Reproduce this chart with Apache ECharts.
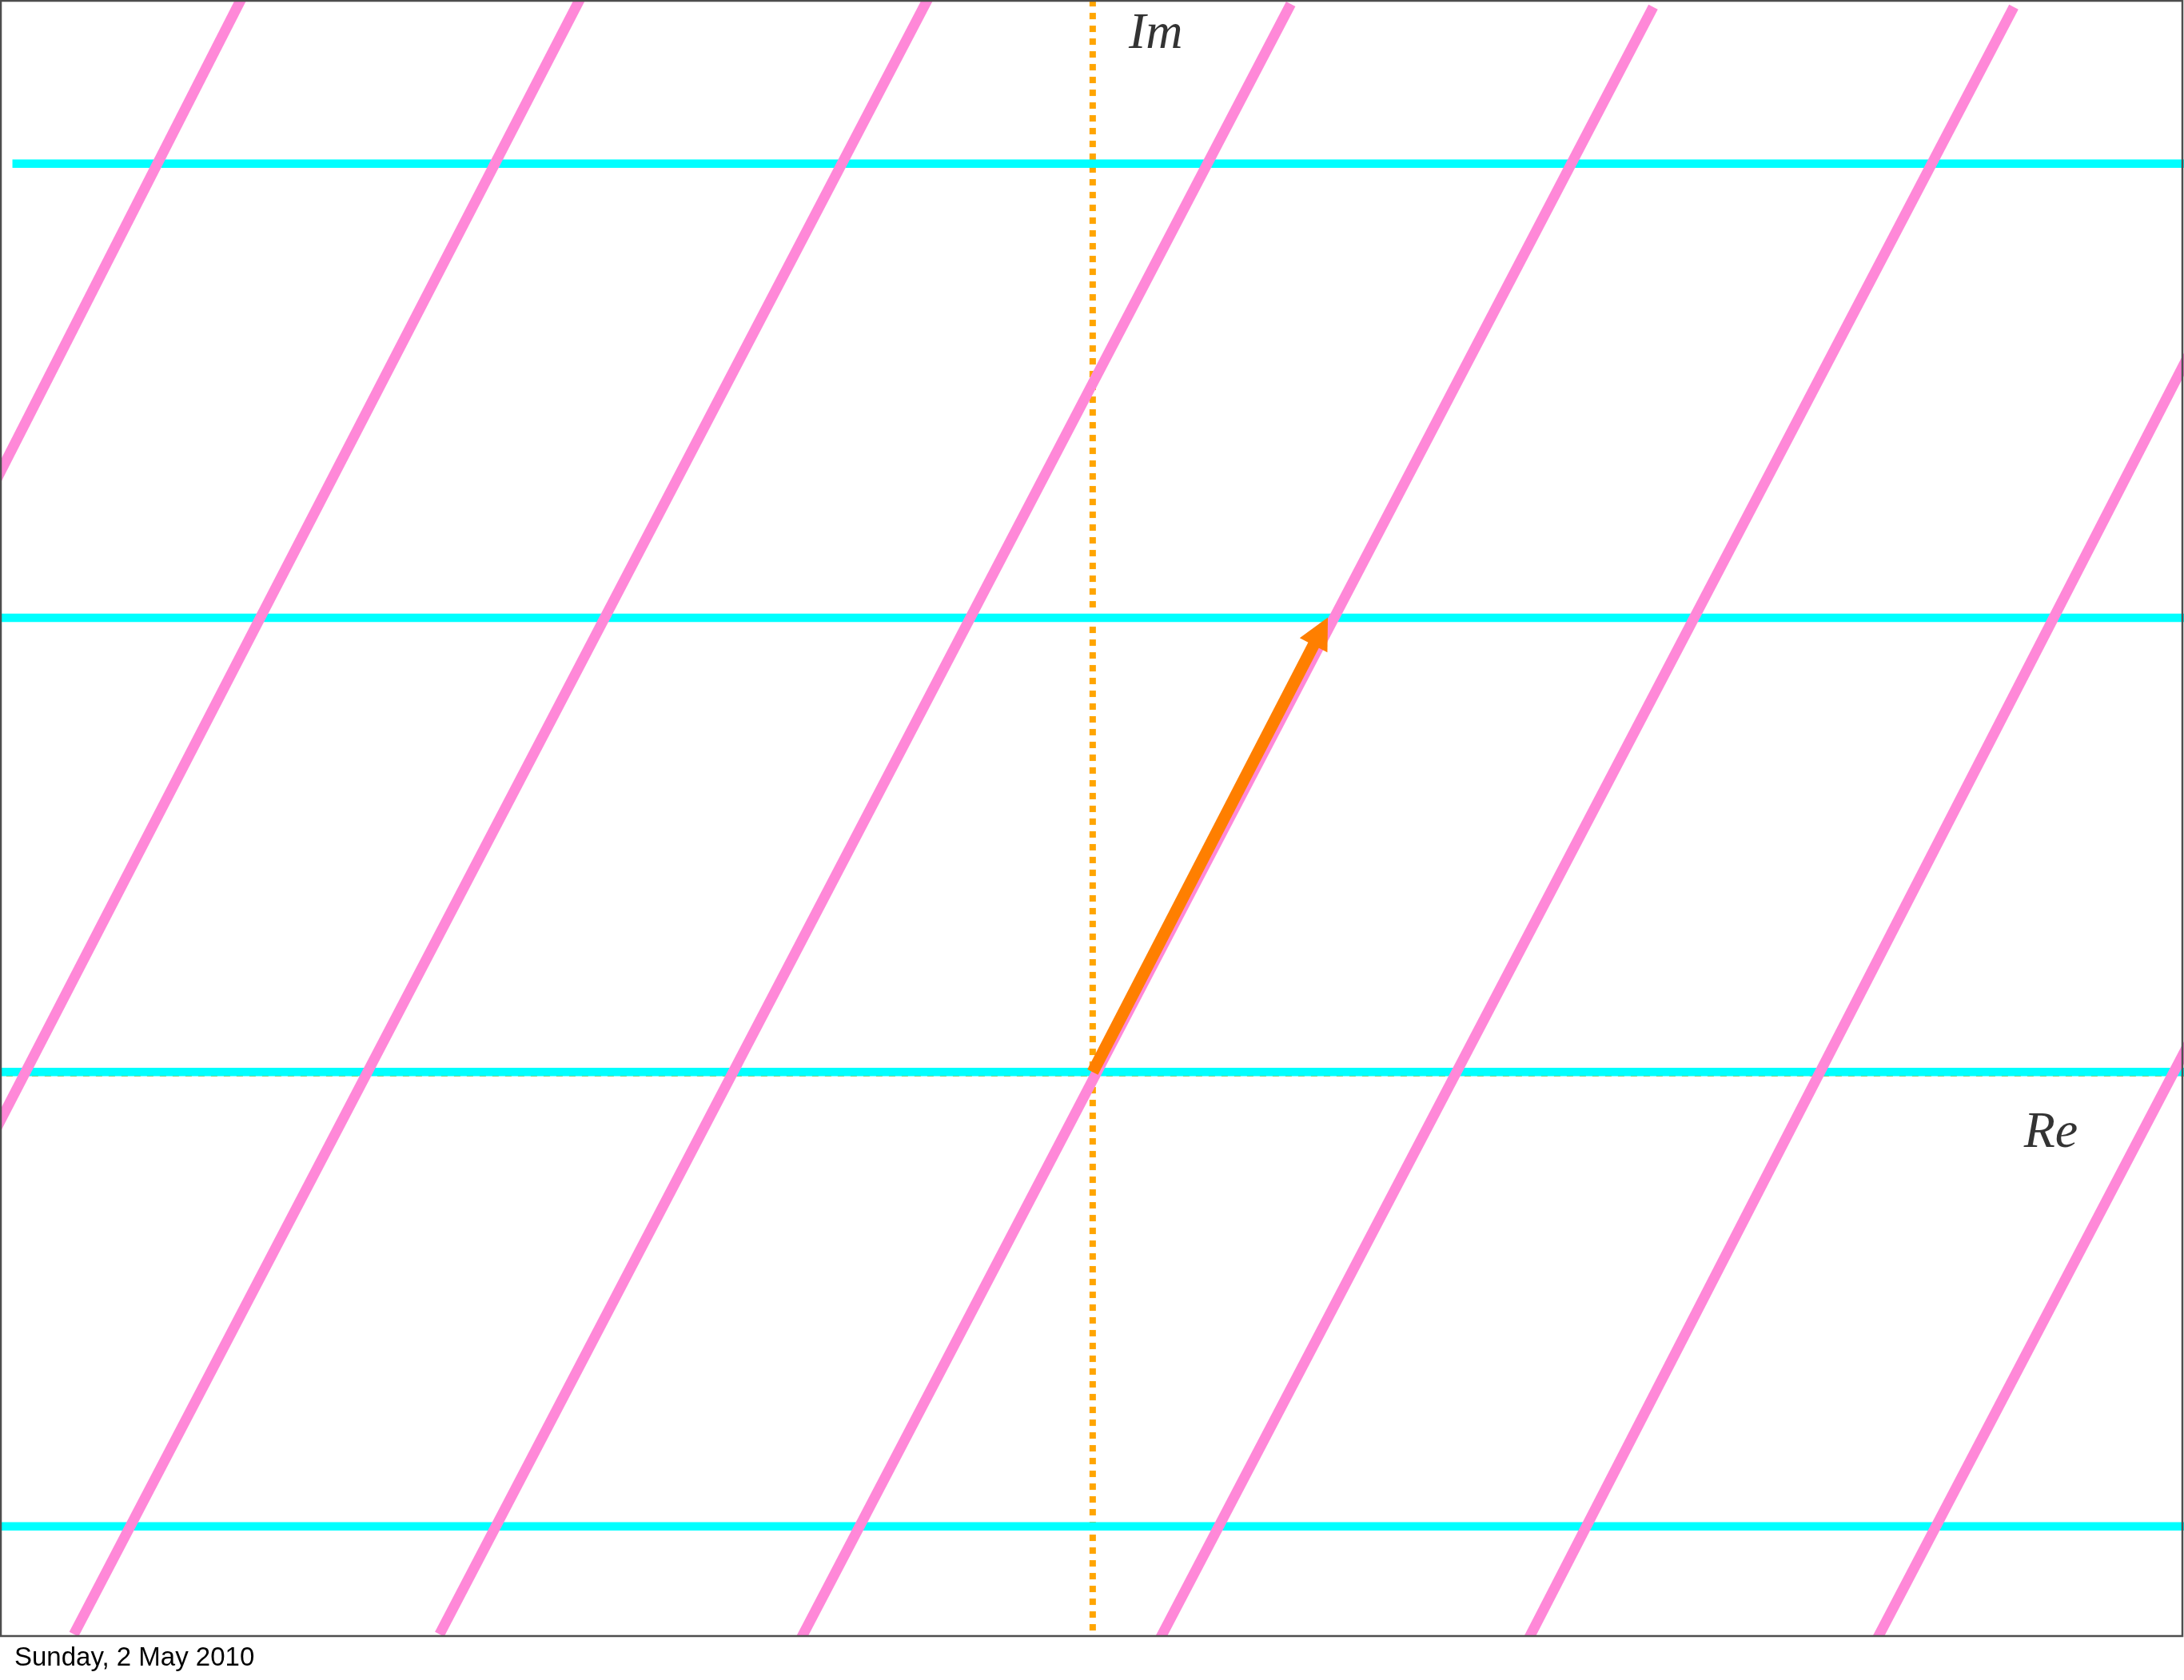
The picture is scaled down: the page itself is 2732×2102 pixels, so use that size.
<!DOCTYPE html>
<html>
<head>
<meta charset="utf-8">
<script src="https://cdn.jsdelivr.net/npm/echarts@6/dist/echarts.min.js"></script>
<style>
html,body{margin:0;padding:0;background:#ffffff;}
#chart{width:2732px;height:2102px;}
</style>
</head>
<body>
<div id="chart"></div>
<script>
// ---------------- data (complex-plane units) ----------------
// cyan lines: Im = constant
const cyanYs      = [-1.25, 0, 1.25, 2.5];
const cyanXStart  = [-3.2, -3.2, -3.2, -2.972];
const cyanXEnd    = [3.2, 3.2, 3.2, 3.2];
// pink lines (hand-drawn, slightly uneven): upper and lower points
const pinkUpper = [[-2.344, 2.950], [-1.412, 2.950], [-0.455, 2.950], [0.545, 2.939],
                   [1.542, 2.931], [2.534, 2.931], [3.000, 1.943], [3.000, 0.049]];
const pinkLower = [[-3.006, 1.650], [-2.936, 0.000], [-2.803, -1.547], [-1.797, -1.547],
                   [-0.799, -1.552], [0.189, -1.552], [1.203, -1.552], [2.162, -1.552]];
// whether the line runs on past that point (cut by the frame)
const pinkUpperOpen = [true, true, true, false, false, false, true, true];
const pinkLowerOpen = [true, true, false, false, true, true, true, true];
// dotted axes
const imAxisYRange = [2.95, -1.54];
const reAxisXRange = [-3.2, 3.2];
const reAxisY      = -0.0035;
// arrow (from origin to tau)
const arrowVec     = [0, 0, 0.647, 1.251];
// axis ranges
const xRange = [-3.004, 2.998];
const yRange = [-1.552, 2.948];
// texts
const axisNames   = ['Im', 'Re'];
const axisNamePos = [[0.099, 2.855], [2.562, -0.170]];
const footerText  = 'Sunday, 2 May 2010';

// ---------------- build option ----------------
const COL_PINK = '#FF88D8';
const COL_CYAN = '#00FFFF';
const COL_DOT  = '#FFA500';
const COL_ARROW = '#FF7F00';

const series = [];

// dotted Im axis (vertical)
series.push({
  type: 'line', z: 1, symbol: 'none', showSymbol: false, silent: true, clip: true,
  data: [[0, imAxisYRange[0]], [0, imAxisYRange[1]]],
  lineStyle: { color: COL_DOT, width: 8, type: [8, 8], cap: 'butt' }
});
// dotted Re axis (horizontal, mostly hidden under cyan)
series.push({
  type: 'line', z: 1, symbol: 'none', showSymbol: false, silent: true, clip: true,
  data: [[reAxisXRange[0], reAxisY], [reAxisXRange[1], reAxisY]],
  lineStyle: { color: COL_DOT, width: 8, type: [8, 8], cap: 'butt' }
});

cyanYs.forEach(function (y, i) {
  series.push({
    type: 'line', z: 2, symbol: 'none', showSymbol: false, silent: true, clip: true,
    data: [[cyanXStart[i], y], [cyanXEnd[i], y]],
    lineStyle: { color: COL_CYAN, width: 10.5, cap: 'butt' }
  });
});

pinkUpper.forEach(function (u, i) {
  const l = pinkLower[i];
  const dx = u[0] - l[0], dy = u[1] - l[1];
  const len = Math.sqrt(dx * dx + dy * dy);
  const ext = 0.4;
  const a = pinkLowerOpen[i] ? [l[0] - dx / len * ext, l[1] - dy / len * ext] : l;
  const b = pinkUpperOpen[i] ? [u[0] + dx / len * ext, u[1] + dy / len * ext] : u;
  series.push({
    type: 'line', z: 3, symbol: 'none', showSymbol: false, silent: true, clip: true,
    data: [a, b],
    lineStyle: { color: COL_PINK, width: 13, cap: 'butt' }
  });
});

// arrow
series.push({
  type: 'custom', z: 5, silent: true,
  coordinateSystem: 'cartesian2d',
  encode: { x: [0, 2], y: [1, 3] },
  data: [arrowVec],
  renderItem: function (params, api) {
    const a = api.coord([api.value(0), api.value(1)]);
    const b = api.coord([api.value(2), api.value(3)]);
    const dx = b[0] - a[0], dy = b[1] - a[1];
    const len = Math.sqrt(dx * dx + dy * dy);
    const ux = dx / len, uy = dy / len;
    const px = -uy, py = ux;
    const L = 39, W = 19.5;
    const bx = b[0] - ux * L, by = b[1] - uy * L;
    return {
      type: 'group',
      children: [
        { type: 'line',
          shape: { x1: a[0], y1: a[1], x2: b[0] - ux * L * 0.8, y2: b[1] - uy * L * 0.8 },
          style: { stroke: COL_ARROW, lineWidth: 15, lineCap: 'butt' } },
        { type: 'polygon',
          shape: { points: [[b[0], b[1]], [bx + px * W, by + py * W], [bx - px * W, by - py * W]] },
          style: { fill: COL_ARROW } }
      ]
    };
  }
});

// axis names (Im, Re)
series.push({
  type: 'scatter', z: 6, silent: true, symbolSize: 0,
  data: axisNamePos.map(function (p, i) { return { value: p, name: axisNames[i] }; }),
  label: {
    show: true, position: [0, 0], align: 'left', verticalAlign: 'middle',
    formatter: function (p) { return p.name; },
    fontFamily: '"Liberation Serif", "DejaVu Serif", serif',
    fontStyle: 'italic', fontSize: 64, color: '#000000'
  }
});

const option = {
  animation: false,
  backgroundColor: '#ffffff',
  grid: {
    left: 1, top: 1, width: 2729, height: 2046,
    show: true, borderColor: '#4d4d4d', borderWidth: 2.5,
    backgroundColor: 'transparent', z: 10,
    containLabel: false, outerBoundsMode: 'none'
  },
  xAxis: {
    type: 'value', min: xRange[0], max: xRange[1], show: false,
    splitLine: { show: false }
  },
  yAxis: {
    type: 'value', min: yRange[0], max: yRange[1], show: false,
    splitLine: { show: false }
  },
  graphic: [{
    // page margin below the frame (hides line overshoot past the frame)
    type: 'rect', z: 8, silent: true,
    shape: { x: 0, y: 2048, width: 2732, height: 54 },
    style: { fill: '#ffffff' }
  }, {
    type: 'text', x: 18, y: 2074.5, z: 20, silent: true,
    style: {
      text: footerText, fill: '#000000',
      font: '33px "Liberation Sans", Arial, sans-serif',
      verticalAlign: 'middle', align: 'left'
    }
  }],
  series: series
};

const chart = echarts.init(document.getElementById('chart'), null, { renderer: 'canvas' });
chart.setOption(option);
</script>
</body>
</html>
